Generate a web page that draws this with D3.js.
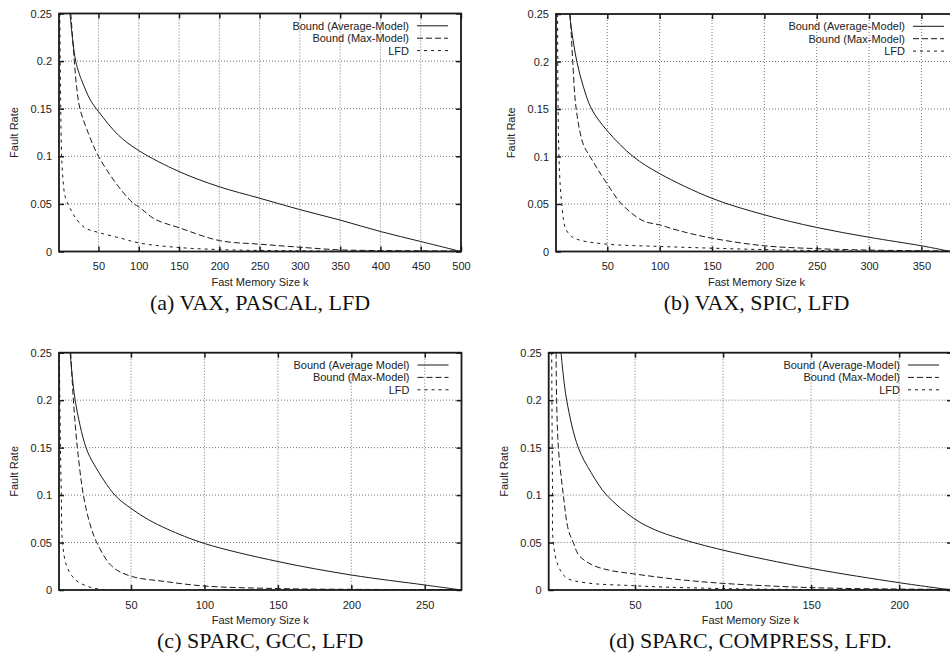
<!DOCTYPE html>
<html>
<head>
<meta charset="utf-8">
<script src="https://cdn.jsdelivr.net/npm/d3@7"></script>
<style>
  html, body { margin: 0; padding: 0; background: #fff; }
  svg { display: block; }
  .tick text { font-family: "Liberation Sans", Arial, sans-serif; font-size: 11px; fill: #222; }
</style>
</head>
<body>
<svg id="chart" width="950" height="655"></svg>
<script>
// values: [k, fault rate]
const aAvg = [[14.6,0.25],[18,0.222],[21.7,0.2],[26,0.187],[30,0.178],[40,0.159],[50,0.147],[75,0.122],[100,0.106],[150,0.084],[200,0.068],[250,0.056],[300,0.044],[350,0.033],[400,0.021],[450,0.0105],[500,0]];
const aMax = [[15.7,0.25],[20,0.2],[23,0.172],[27,0.15],[37.5,0.124],[50,0.1],[75,0.068],[94,0.05],[100,0.047],[120,0.034],[150,0.025],[200,0.0115],[250,0.0077],[300,0.0045],[350,0.0017],[400,0.001],[500,0.0005]];
const aLfd = [[2,0.25],[3,0.16],[4.3,0.1],[6,0.075],[8.8,0.057],[15,0.045],[21,0.036],[33,0.025],[50,0.02],[79,0.0137],[100,0.009],[142,0.0047],[200,0.002],[300,0.0007],[400,0.0003],[500,0]];

const bAvg = [[13.9,0.25],[16,0.232],[20.9,0.2],[27,0.174],[35,0.15],[50,0.127],[74.7,0.1],[100,0.082],[150,0.056],[200,0.0386],[250,0.0253],[300,0.015],[350,0.006],[378,0]];
const bMax = [[14.6,0.25],[17,0.2],[20.3,0.15],[27,0.113],[33.5,0.1],[40,0.088],[50,0.071],[63.6,0.05],[84,0.0324],[100,0.028],[119,0.0218],[150,0.014],[200,0.006],[250,0.003],[300,0.0015],[350,0.0008],[378,0.0005]];
const bLfd = [[2.5,0.25],[3,0.15],[3.8,0.1],[5,0.07],[6.5,0.05],[8,0.035],[10,0.0245],[15.6,0.016],[25,0.0116],[50,0.0077],[100,0.0053],[150,0.0035],[200,0.002],[250,0.001],[300,0.0005],[378,0.0002]];

const cAvg = [[8.6,0.25],[12,0.2],[19.4,0.15],[25,0.132],[39,0.1],[50,0.086],[62,0.074],[75,0.064],[100,0.049],[150,0.03],[200,0.0158],[250,0.0053],[275,0]];
const cMax = [[9,0.25],[10.8,0.2],[13.5,0.15],[17.6,0.1],[22,0.07],[26.7,0.05],[37,0.025],[50,0.0145],[73,0.009],[100,0.0042],[150,0.0015],[200,0.0007],[275,0.0003]];
const cLfd = [[1.2,0.25],[2,0.15],[2.6,0.1],[3.4,0.05],[6.3,0.025],[12,0.011],[21,0.0035],[30,0.0007],[50,0],[275,0]];

const dAvg = [[8,0.25],[11.2,0.2],[17.8,0.15],[25,0.124],[33.9,0.1],[50,0.0746],[61.4,0.0634],[75,0.0545],[100,0.042],[150,0.0228],[200,0.0077],[230,0]];
const dMax = [[5.2,0.25],[5.5,0.2],[6.5,0.15],[9.3,0.1],[12.2,0.063],[15,0.05],[18,0.037],[25,0.027],[35,0.021],[50,0.0168],[75,0.011],[100,0.007],[150,0.0025],[200,0.001],[230,0.0007]];
const dLfd = [[2.7,0.25],[3.2,0.1],[3.6,0.05],[6.5,0.025],[11,0.013],[21.6,0.0077],[50,0.0045],[61,0.0035],[100,0.0015],[150,0.0005],[230,0.0002]];

const legendLabels = ['Bound (Average-Model)', 'Bound (Max-Model)', 'LFD'];
const legendLabelsC = ['Bound (Average Model)', 'Bound (Max-Model)', 'LFD'];
const captions = ['(a) VAX, PASCAL, LFD', '(b) VAX, SPIC, LFD', '(c) SPARC, GCC, LFD', '(d) SPARC, COMPRESS, LFD.'];
const xMaxes = [500, 384, 275, 230];
const yTicks = [0, 0.05, 0.1, 0.15, 0.2, 0.25];
const xStep = 50;

// panel boxes (layout only)
const panels = [
  { left: 59,    right: 461,   top: 13.5,  bottom: 251.5, xMax: xMaxes[0], caption: captions[0], labels: legendLabels,  series: [aAvg, aMax, aLfd] },
  { left: 556,   right: 957,   top: 14,    bottom: 251.5, xMax: xMaxes[1], caption: captions[1], labels: legendLabels,  series: [bAvg, bMax, bLfd] },
  { left: 59,    right: 461.5, top: 352.7, bottom: 590,   xMax: xMaxes[2], caption: captions[2], labels: legendLabelsC, series: [cAvg, cMax, cLfd] },
  { left: 548.7, right: 952,   top: 352.7, bottom: 590,   xMax: xMaxes[3], caption: captions[3], labels: legendLabels,  series: [dAvg, dMax, dLfd] }
];

const dashes = [null, '6,3', '3,4'];
const ink = '#1a1a1a';
const sans = '"Liberation Sans", Arial, sans-serif';

const svg = d3.select('#chart');

panels.forEach((p, i) => {
  const g = svg.append('g');
  const x = d3.scaleLinear().domain([1, p.xMax]).range([p.left, p.right]);
  const y = d3.scaleLinear().domain([0, 0.25]).range([p.bottom, p.top]);
  const xTicks = d3.range(xStep, p.xMax + 1, xStep);

  // grid
  g.selectAll('.vgrid').data(xTicks).enter().append('line')
    .attr('x1', d => x(d)).attr('x2', d => x(d))
    .attr('y1', p.top).attr('y2', p.bottom)
    .attr('stroke', '#666').attr('stroke-width', 0.9).attr('stroke-dasharray', '1,2');
  g.selectAll('.hgrid').data(yTicks.slice(1, -1)).enter().append('line')
    .attr('x1', p.left).attr('x2', p.right)
    .attr('y1', d => y(d)).attr('y2', d => y(d))
    .attr('stroke', '#666').attr('stroke-width', 0.9).attr('stroke-dasharray', '1,2');

  // axes with inward ticks
  const fmtY = d => d === 0 ? '0' : String(+d.toFixed(2));
  const yAxis = g.append('g').attr('transform', 'translate(' + p.left + ',0)')
    .call(d3.axisLeft(y).tickValues(yTicks).tickFormat(fmtY).tickSize(-5).tickSizeOuter(0).tickPadding(7));
  const xAxis = g.append('g').attr('transform', 'translate(0,' + p.bottom + ')')
    .call(d3.axisBottom(x).tickValues(xTicks).tickFormat(d3.format('d')).tickSize(-5).tickSizeOuter(0).tickPadding(11));
  const topAxis = g.append('g').attr('transform', 'translate(0,' + p.top + ')')
    .call(d3.axisTop(x).tickValues(xTicks).tickFormat('').tickSize(-5).tickSizeOuter(0));
  const rightAxis = g.append('g').attr('transform', 'translate(' + p.right + ',0)')
    .call(d3.axisRight(y).tickValues(yTicks).tickFormat('').tickSize(-5).tickSizeOuter(0));
  [yAxis, xAxis, topAxis, rightAxis].forEach(a => {
    a.select('.domain').remove();
    a.selectAll('.tick line').attr('stroke', ink).attr('stroke-width', 1.5);
  });
  xAxis.selectAll('.tick text').attr('dy', '0.71em');

  // curves
  const clipId = 'clip' + i;
  g.append('clipPath').attr('id', clipId).append('rect')
    .attr('x', p.left).attr('y', p.top)
    .attr('width', p.right - p.left).attr('height', p.bottom - p.top);
  const line = d3.line().x(d => x(d[0])).y(d => y(d[1])).curve(d3.curveCatmullRom.alpha(0.5));
  p.series.forEach((s, j) => {
    g.append('path').datum(s)
      .attr('clip-path', 'url(#' + clipId + ')')
      .attr('d', line)
      .attr('fill', 'none')
      .attr('stroke', ink)
      .attr('stroke-width', 1)
      .attr('stroke-dasharray', dashes[j]);
  });

  // border
  g.append('rect')
    .attr('x', p.left).attr('y', p.top)
    .attr('width', p.right - p.left).attr('height', p.bottom - p.top)
    .attr('fill', 'none').attr('stroke', ink).attr('stroke-width', 1.8);

  // legend
  p.labels.forEach((lab, j) => {
    const ly = p.top + 12.3 + j * 12.4;
    g.append('text')
      .attr('x', p.right - 52).attr('y', ly + 4)
      .attr('text-anchor', 'end')
      .attr('font-family', sans).attr('font-size', 11).attr('fill', '#222')
      .text(lab);
    g.append('line')
      .attr('x1', p.right - 44).attr('x2', p.right - 13)
      .attr('y1', ly).attr('y2', ly)
      .attr('stroke', ink).attr('stroke-width', 1)
      .attr('stroke-dasharray', dashes[j]);
  });

  // axis titles
  const cx = (p.left + p.right) / 2;
  g.append('text')
    .attr('x', cx).attr('y', p.bottom + 34)
    .attr('text-anchor', 'middle')
    .attr('font-family', sans).attr('font-size', 11).attr('fill', '#222')
    .text('Fast Memory Size k');
  g.append('text')
    .attr('transform', 'translate(' + (p.left - 41) + ',' + ((p.top + p.bottom) / 2) + ') rotate(-90)')
    .attr('text-anchor', 'middle')
    .attr('font-family', sans).attr('font-size', 11).attr('fill', '#222')
    .text('Fault Rate');

  // caption
  g.append('text')
    .attr('x', cx).attr('y', p.bottom + 58)
    .attr('text-anchor', 'middle')
    .attr('font-family', '"Liberation Serif", "Times New Roman", serif')
    .attr('font-size', 22).attr('fill', '#111')
    .text(p.caption);
});
</script>
</body>
</html>
